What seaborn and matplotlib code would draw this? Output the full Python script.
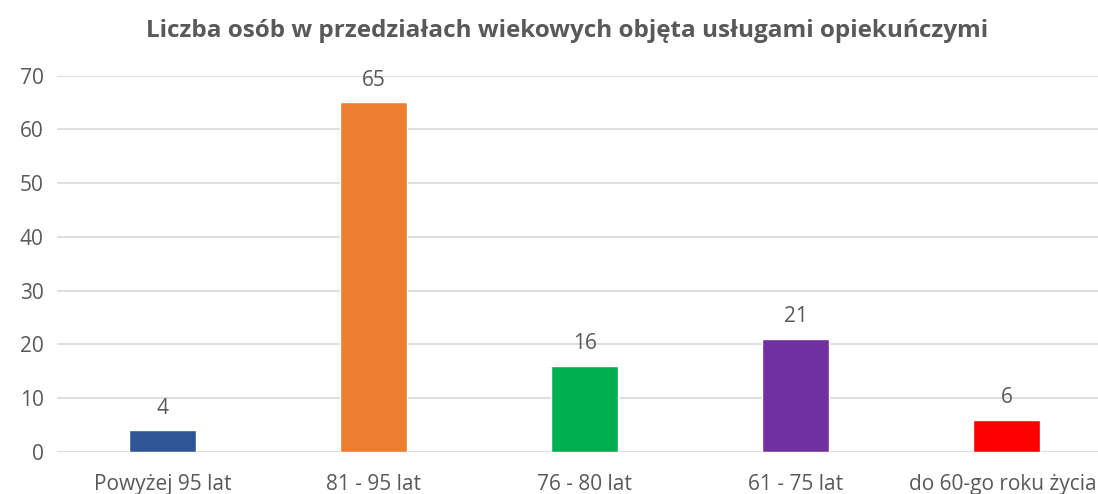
import matplotlib
matplotlib.use("Agg")
import matplotlib.pyplot as plt
import matplotlib.transforms as mtransforms
import seaborn as sns
import pandas as pd

categories = ["Powyżej 95 lat", "81 - 95 lat", "76 - 80 lat", "61 - 75 lat", "do 60-go roku życia"]
counts = [4, 65, 16, 21, 6]
bar_colors = ["#2F5597", "#ED7D31", "#00B050", "#7030A0", "#FF0000"]
title = "Liczba osób w przedziałach wiekowych objęta usługami opiekuńczymi"

sns.set_theme(style="white")
plt.rcParams["font.family"] = ["Open Sans", "DejaVu Sans"]

text_gray = "#595959"
grid_gray = "#D9D9D9"

df = pd.DataFrame({"kategoria": categories, "liczba": counts})

fig = plt.figure(figsize=(10.98, 4.94), dpi=100)
ax = fig.add_axes([0.0519, 0.085, 0.961, 0.762])

sns.barplot(data=df, x="kategoria", y="liczba", hue="kategoria",
            palette=bar_colors, width=0.317, legend=False, ax=ax,
            saturation=1)

ax.set_ylim(0, 70)
ax.set_yticks(range(0, 71, 10))
ax.set_xlim(-0.5, len(categories) - 0.5)
ax.yaxis.grid(True, color=grid_gray, linewidth=1.2)
ax.set_axisbelow(True)
for side in ["top", "right", "left", "bottom"]:
    ax.spines[side].set_visible(False)
ax.axhline(0, color=grid_gray, linewidth=1.2, zorder=0.5)

ax.set_xlabel("")
ax.set_ylabel("")
ax.tick_params(axis="both", length=0, labelsize=15, colors=text_gray)
ax.tick_params(axis="y", pad=9.5)
ax.tick_params(axis="x", pad=16)

# nudge the last category label left so it stays inside the canvas
last_label = ax.get_xticklabels()[-1]
shift = mtransforms.ScaledTranslation(-4 / 100, 0, fig.dpi_scale_trans)
last_label.set_transform(last_label.get_transform() + shift)

for container in ax.containers:
    ax.bar_label(container, fmt="%d", padding=8.5, fontsize=15, color=text_gray)

fig.text(0.516, 0.937, title, ha="center", va="center",
         fontsize=17.5, fontweight="bold", color=text_gray)

fig.savefig("out.png", dpi=100, facecolor="white")
